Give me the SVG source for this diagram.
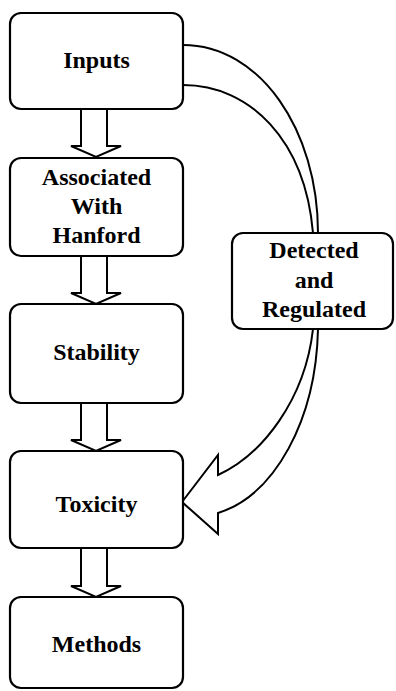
<svg xmlns="http://www.w3.org/2000/svg" width="396" height="691" viewBox="0 0 396 691">
  <style>
    .box { fill: #ffffff; stroke: #000000; stroke-width: 2.2; }
    .arrow { fill: #ffffff; stroke: #000000; stroke-width: 2; stroke-linejoin: miter; }
    .curve { fill: none; stroke: #000000; stroke-width: 2; }
    .label { font-family: "Liberation Serif", "Times New Roman", serif; font-weight: bold; font-size: 24px; fill: #000000; text-anchor: middle; }
  </style>
  <rect width="396" height="691" fill="#ffffff"/>

  <g id="connectors">
    <!-- block arrows between stacked boxes -->
    <path class="arrow" d="M81,109 V146 H71 L96,157 L121,146 H107 V109"/>
    <path class="arrow" d="M81,256 V293 H71 L96,304 L121,293 H107 V256"/>
    <path class="arrow" d="M81,403 V440 H71 L96,451 L121,440 H107 V403"/>
    <path class="arrow" d="M81,548 V586 H71 L96,597 L121,586 H107 V548"/>
    <!-- band from Inputs to Detected and Regulated -->
    <path class="curve" d="M183,45 C260,45 318,130 318,233"/>
    <path class="curve" d="M183,85 C250,85 305,140 313,233"/>
    <!-- curved block arrow into Toxicity -->
    <path class="arrow" d="M313,329 C305,400 262,455 218,475 L218,455 L182,502 L218,534 L218,513 C275,495 316,420 318,329"/>
  </g>

  <g id="inputs">
    <rect class="box" x="10" y="13" width="173" height="96" rx="11"/>
    <text class="label" x="96.5" y="68">Inputs</text>
  </g>
  <g id="associated">
    <rect class="box" x="10" y="158" width="173" height="98" rx="11"/>
    <text class="label" x="96.5" y="185">Associated</text>
    <text class="label" x="96.5" y="214">With</text>
    <text class="label" x="96.5" y="243">Hanford</text>
  </g>
  <g id="stability">
    <rect class="box" x="10" y="304" width="173" height="99" rx="11"/>
    <text class="label" x="96.5" y="360">Stability</text>
  </g>
  <g id="toxicity">
    <rect class="box" x="10" y="451" width="173" height="97" rx="11"/>
    <text class="label" x="96.5" y="512">Toxicity</text>
  </g>
  <g id="methods">
    <rect class="box" x="10" y="597" width="173" height="91" rx="11"/>
    <text class="label" x="96.5" y="652">Methods</text>
  </g>
  <g id="detected">
    <rect class="box" x="232" y="233" width="161" height="96" rx="11"/>
    <text class="label" x="314" y="258">Detected</text>
    <text class="label" x="314" y="288">and</text>
    <text class="label" x="314" y="317">Regulated</text>
  </g>
</svg>
